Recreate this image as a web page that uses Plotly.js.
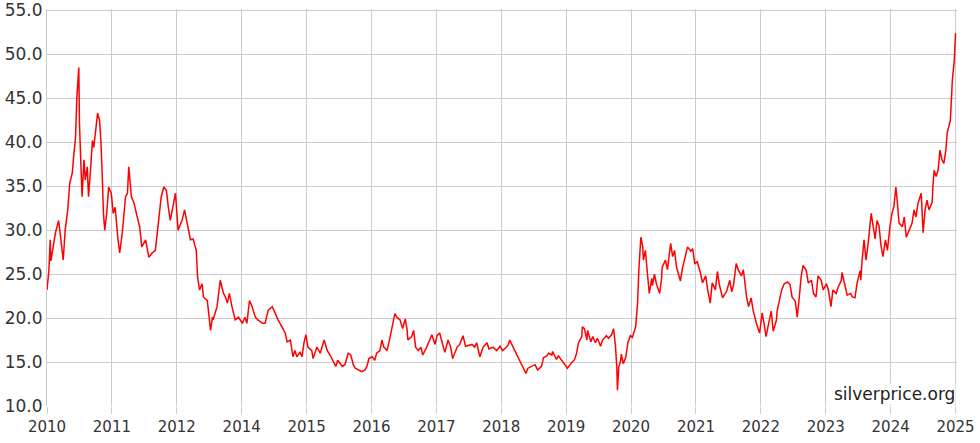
<!DOCTYPE html>
<html>
<head>
<meta charset="utf-8">
<script src="https://cdn.plot.ly/plotly-3.0.1.min.js"></script>
<style>
html,body{margin:0;padding:0;background:#fff;}
#chart{width:980px;height:443px;}
</style>
</head>
<body>
<div id="chart"></div>
<script>
// Position along the axis (0 = first tick label, 14 = last tick label)
const t = [
0.00,0.02,0.03,0.05,0.06,0.08,0.13,0.18,0.21,0.25,0.28,0.32,0.35,0.39,0.41,0.44,0.46,0.49,0.50,0.52,
0.53,0.54,0.57,0.59,0.62,0.64,0.67,0.70,0.72,0.75,0.78,0.81,0.83,0.85,0.87,0.89,0.92,0.95,0.99,1.02,
1.05,1.09,1.12,1.16,1.21,1.24,1.26,1.30,1.34,1.39,1.43,1.46,1.52,1.57,1.62,1.67,1.72,1.76,1.80,1.84,
1.87,1.90,1.98,2.02,2.08,2.12,2.16,2.21,2.25,2.30,2.32,2.35,2.39,2.41,2.47,2.48,2.52,2.55,2.56,2.62,
2.67,2.72,2.75,2.78,2.81,2.85,2.90,2.95,3.01,3.05,3.08,3.12,3.16,3.21,3.25,3.32,3.36,3.41,3.47,3.52,
3.56,3.62,3.67,3.70,3.75,3.79,3.82,3.85,3.90,3.93,3.96,3.99,4.02,4.08,4.10,4.16,4.21,4.27,4.32,4.36,
4.41,4.45,4.48,4.55,4.59,4.64,4.68,4.72,4.75,4.79,4.85,4.90,4.93,4.96,5.01,5.05,5.08,5.13,5.16,5.19,
5.24,5.28,5.33,5.36,5.39,5.44,5.48,5.52,5.55,5.56,5.62,5.65,5.68,5.72,5.76,5.79,5.85,5.90,5.93,5.98,
6.01,6.05,6.10,6.13,6.18,6.22,6.25,6.32,6.36,6.41,6.45,6.50,6.55,6.59,6.62,6.67,6.72,6.78,6.81,6.87,
6.93,6.98,7.02,7.08,7.11,7.13,7.18,7.24,7.28,7.33,7.38,7.41,7.47,7.52,7.56,7.62,7.65,7.70,7.73,7.78,
7.79,7.85,7.88,7.95,7.99,8.02,8.08,8.13,8.16,8.19,8.24,8.25,8.28,8.32,8.33,8.38,8.41,8.45,8.48,8.53,
8.56,8.62,8.65,8.70,8.73,8.76,8.78,8.79,8.81,8.84,8.85,8.88,8.92,8.95,8.99,9.02,9.07,9.10,9.12,9.15,
9.18,9.19,9.22,9.25,9.28,9.32,9.33,9.36,9.39,9.44,9.47,9.48,9.53,9.56,9.61,9.64,9.67,9.70,9.76,9.79,
9.84,9.87,9.92,9.95,9.98,10.02,10.07,10.10,10.15,10.18,10.22,10.25,10.30,10.33,10.36,10.41,10.44,10.47,10.52,10.55,
10.58,10.62,10.65,10.70,10.73,10.78,10.81,10.85,10.88,10.93,10.98,11.02,11.05,11.08,11.12,11.16,11.19,11.24,11.25,11.32,
11.36,11.41,11.45,11.48,11.53,11.56,11.59,11.62,11.65,11.70,11.73,11.78,11.81,11.85,11.88,11.93,11.96,12.01,12.04,12.08,
12.11,12.16,12.19,12.24,12.25,12.30,12.33,12.38,12.41,12.45,12.48,12.53,12.54,12.56,12.59,12.62,12.65,12.70,12.73,12.76,
12.79,12.82,12.85,12.88,12.92,12.95,12.99,13.02,13.05,13.08,13.10,13.13,13.18,13.21,13.24,13.28,13.33,13.36,13.39,13.42,
13.47,13.48,13.50,13.53,13.56,13.59,13.64,13.65,13.67,13.70,13.73,13.76,13.79,13.82,13.85,13.87,13.92,13.93,13.95,13.98,
14.00
];
// Silver price (USD / oz)
const price = [
23.2,24.5,25.5,28.9,26.5,27.4,29.7,31.1,29.2,26.6,30.0,32.3,35.3,36.5,38.3,40.6,45.1,48.5,42.2,38.3,
34.9,33.8,38.0,35.7,37.2,33.8,36.8,40.2,39.4,41.7,43.3,42.5,40.2,36.5,31.9,30.0,31.9,34.9,34.2,31.9,
32.6,29.2,27.4,29.7,33.8,34.2,37.2,33.8,33.1,31.5,30.3,28.1,28.9,26.9,27.4,27.7,31.1,33.8,34.9,34.5,
32.6,31.1,34.2,30.0,31.1,32.3,30.8,28.9,29.0,27.7,24.7,23.2,23.9,22.4,22.0,21.3,18.6,20.1,19.8,21.3,
24.3,22.8,22.4,21.7,22.8,21.3,19.8,20.1,19.4,20.1,19.4,22.0,21.3,20.1,19.8,19.4,19.4,20.9,21.3,20.5,
19.8,19.0,18.3,17.3,17.5,15.6,16.3,15.6,16.1,15.6,17.2,18.1,16.7,16.3,15.4,16.7,16.0,17.5,16.3,15.8,
15.0,14.5,15.2,14.5,14.7,16.0,15.8,14.7,14.3,14.1,13.9,14.1,14.5,15.4,15.6,15.2,16.0,16.3,17.5,16.7,
16.3,17.6,19.4,20.5,20.1,19.8,18.8,19.9,18.6,17.5,17.9,18.6,16.7,16.3,16.7,15.8,16.7,17.6,18.1,17.0,
18.0,18.3,16.7,16.1,17.5,16.7,15.4,16.7,17.0,18.0,16.8,16.9,17.0,16.7,17.2,15.6,16.7,17.2,16.5,16.7,
16.3,16.8,16.3,16.7,17.0,17.5,16.7,15.8,15.2,14.3,13.7,14.3,14.5,14.7,14.1,14.5,15.5,15.7,16.0,15.8,
16.2,15.3,15.7,15.0,14.7,14.3,14.9,15.3,16.0,17.2,17.9,19.0,18.8,17.5,18.6,17.3,17.9,17.2,17.7,16.8,
17.5,18.0,17.7,18.1,18.8,16.8,14.4,11.8,14.4,15.2,15.9,14.8,15.6,17.2,18.0,17.8,19.0,21.7,25.5,29.2,
28.1,26.6,27.7,24.7,22.8,24.5,23.7,25.0,23.9,22.8,24.5,25.8,26.6,25.5,28.5,27.0,27.7,25.8,24.2,25.6,
27.0,28.1,27.6,27.9,26.2,26.4,25.1,24.0,24.8,23.2,21.7,24.0,23.2,25.3,23.8,22.3,22.7,23.0,24.3,23.0,
23.8,26.2,25.5,24.8,25.5,22.4,21.3,22.3,20.9,19.4,18.3,20.6,19.3,17.9,19.4,20.8,18.5,19.8,20.8,23.2,
23.9,24.1,23.8,22.4,21.9,20.1,22.2,24.7,26.0,25.4,24.0,24.3,22.8,22.4,24.8,24.3,23.2,23.9,23.2,21.3,
23.2,22.8,23.5,24.3,25.2,23.7,22.6,22.8,22.4,22.3,23.9,25.4,24.3,26.6,28.9,26.6,28.3,31.9,30.5,29.0,
31.1,30.5,28.3,27.0,28.9,27.7,30.5,31.9,32.7,34.9,33.4,30.8,30.4,31.5,29.2,30.0,30.8,32.3,31.5,33.0,
34.2,32.7,29.7,32.3,33.4,32.3,33.2,34.9,36.8,36.1,36.8,39.1,38.0,37.6,39.1,41.0,42.5,44.0,47.0,49.3,
52.4
];
const tickPos = [0,1,2,3,4,5,6,7,8,9,10,11,12,13,14];
const tickLabels = ['2010','2011','2012','2014','2015','2016','2017','2018','2019','2020','2021','2022','2023','2024','2025'];
const yTicks = [10,15,20,25,30,35,40,45,50,55];

const trace = {
  x: t, y: price, type: 'scatter', mode: 'lines',
  line: {color: '#ff0000', width: 1.5},
  hoverinfo: 'skip', cliponaxis: false
};

const layout = {
  width: 980, height: 443,
  margin: {l: 46.5, r: 22.6, t: 8.7, b: 37},
  paper_bgcolor: '#ffffff', plot_bgcolor: '#ffffff',
  showlegend: false,
  font: {family: 'DejaVu Sans, sans-serif', color: '#333333'},
  xaxis: {
    range: [0, 14.022], tickvals: tickPos, ticktext: tickLabels,
    showgrid: true, gridcolor: '#cccccc', gridwidth: 1,
    ticks: 'outside', ticklen: 7, tickcolor: '#cccccc',
    zeroline: false, showline: false, ticklabeloverflow: 'allow',
    tickfont: {size: 15, family: 'DejaVu Sans, sans-serif', color: '#333333'},
    fixedrange: true
  },
  yaxis: {
    range: [10, 55.15], tickvals: yTicks, tickformat: '.1f',
    showgrid: true, gridcolor: '#cccccc', gridwidth: 1,
    ticks: '', zeroline: false, showline: true, linecolor: '#cccccc', linewidth: 1,
    ticklabeloverflow: 'allow',
    tickfont: {size: 17, family: 'DejaVu Sans, sans-serif', color: '#333333'},
    fixedrange: true
  },
  annotations: [{
    text: 'silverprice.org', xref: 'x', yref: 'paper', x: 14, y: 0,
    xanchor: 'right', yanchor: 'bottom', showarrow: false,
    bgcolor: '#ffffff', borderpad: 0, yshift: 1,
    font: {size: 17, family: 'DejaVu Sans, sans-serif', color: '#222222'}
  }]
};

Plotly.newPlot('chart', [trace], layout, {displayModeBar: false, staticPlot: true});
</script>
</body>
</html>
